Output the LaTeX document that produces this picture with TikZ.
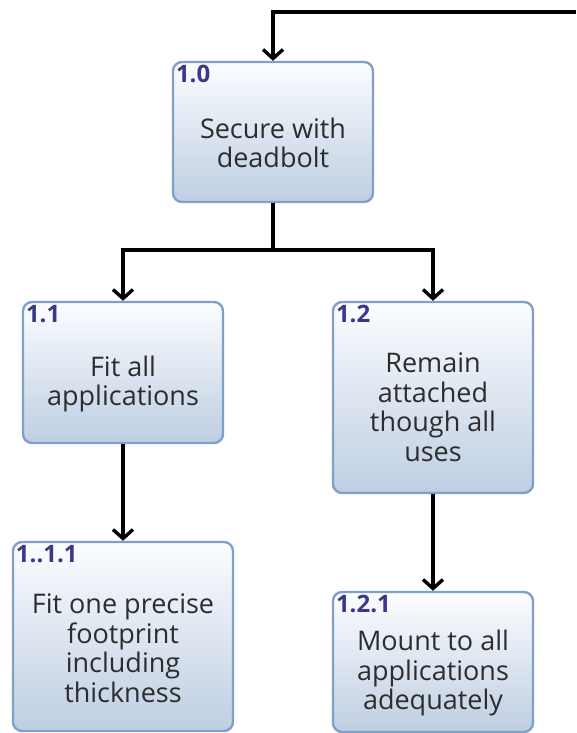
\documentclass[tikz,border=0pt]{standalone}
\usepackage{fontspec}
\setmainfont{Open Sans}
\usetikzlibrary{arrows.meta}

\definecolor{boxedge}{RGB}{128,160,200}
\definecolor{boxtop}{RGB}{252,253,255}
\definecolor{boxbottom}{RGB}{190,206,226}
\definecolor{idtext}{RGB}{58,56,140}
\definecolor{bodytext}{RGB}{45,45,45}

\tikzset{
  goal/.style={draw=boxedge, line width=2.4pt, rounded corners=9pt,
    top color=boxtop, bottom color=boxbottom, inner sep=0pt, minimum width=200pt},
  goaltext/.style={text=bodytext, align=center, inner sep=0pt,
    font=\fontsize{27}{29.5}\selectfont},
  goalid/.style={text=idtext, anchor=base west, inner sep=0pt,
    font=\fontsize{24}{24}\selectfont\bfseries},
  link/.style={line width=3.2pt,
    -{Straight Barb[length=9pt, width=20pt, line width=3.4pt]}}
}

\begin{document}
\begin{tikzpicture}[x=1pt, y=-1pt]
  \useasboundingbox (0,0) rectangle (576,733);

  % goal boxes
  \node[goal, minimum height=140pt] (n10)  at (273,132)   {};
  \node[goal, minimum height=141pt] (n11)  at (123,372.5) {};
  \node[goal, minimum height=191pt] (n12)  at (433,397.5) {};
  \node[goal, minimum width=220pt, minimum height=189pt] (n111) at (123,636.5) {};
  \node[goal, minimum height=140pt] (n121) at (433,662)   {};

  % identifiers in the upper left corners
  \node[goalid] (id10)  at ([shift={(4pt,-22pt)}]n10.north west)  {1.0};
  \node[goalid] (id11)  at ([shift={(4pt,-22pt)}]n11.north west)  {1.1};
  \node[goalid] (id12)  at ([shift={(4pt,-22pt)}]n12.north west)  {1.2};
  \node[goalid] (id111) at ([shift={(4pt,-22pt)}]n111.north west) {1..1.1};
  \node[goalid] (id121) at ([shift={(4pt,-22pt)}]n121.north west) {1.2.1};

  % descriptions
  \node[goaltext] (t10)  at (273,143) {Secure with\\deadbolt};
  \node[goaltext] (t11)  at (123,384) {Fit all\\applications};
  \node[goaltext] (t12)  at (433,407) {Remain\\attached\\though all\\uses};
  \node[goaltext] (t111) at (123,648) {Fit one precise\\footprint\\including\\thickness};
  \node[goaltext] (t121) at (433,673) {Mount to all\\applications\\adequately};

  % connectors
  \coordinate (feed)  at (576,12);
  \coordinate (split) at (273,250);
  \draw[link] (feed) -| (n10.north);
  \draw[link] (n10.south) -- (split) -| (n11.north);
  \draw[link] (split) -| (n12.north);
  \draw[link] (n11.south) -- (n111.north);
  \draw[link] (n12.south) -- (n121.north);
\end{tikzpicture}
\end{document}
